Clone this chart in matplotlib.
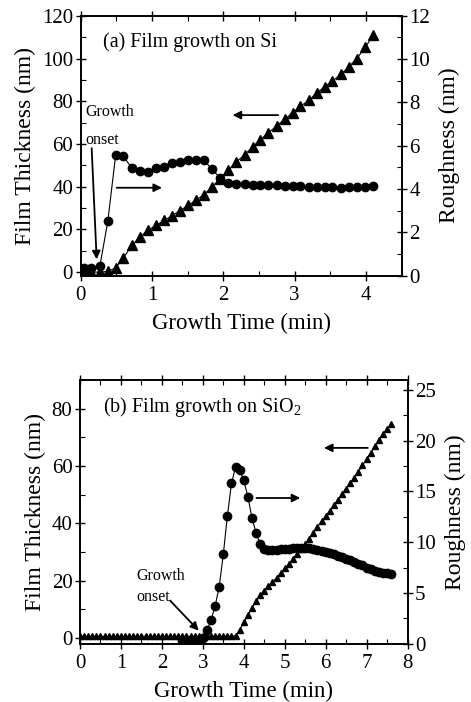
import matplotlib
matplotlib.use("Agg")
import matplotlib.pyplot as plt
from matplotlib.ticker import MultipleLocator

plt.rcParams['font.family'] = ['Liberation Serif', 'DejaVu Serif']
plt.rcParams['mathtext.fontset'] = 'custom'
plt.rcParams['mathtext.rm'] = 'Liberation Serif'

# (a) growth on Si
time_si = [0.04, 0.15, 0.27, 0.38, 0.49, 0.60, 0.72, 0.83, 0.94, 1.06, 1.17, 1.28,
           1.39, 1.51, 1.62, 1.73, 1.84, 1.96, 2.07, 2.18, 2.30, 2.41, 2.52, 2.63,
           2.75, 2.86, 2.97, 3.08, 3.20, 3.31, 3.42, 3.53, 3.65, 3.76, 3.87, 3.99, 4.10]
thick_si = [0, 0, 0, 0.3, 2.0, 6.8, 12.5, 16.5, 19.5, 22.0, 24.2, 26.4,
            28.8, 31.3, 33.8, 36.3, 40.0, 43.8, 47.6, 51.5, 55.0, 58.6, 62.0, 65.2,
            68.5, 71.5, 74.6, 77.6, 80.5, 83.9, 86.8, 89.4, 92.7, 96.1, 100.0, 105.2, 111.0]
rough_si = [0.35, 0.35, 0.45, 2.5, 5.55, 5.5, 4.95, 4.84, 4.79, 4.95, 5.03, 5.2,
            5.26, 5.32, 5.36, 5.34, 4.9, 4.5, 4.28, 4.23, 4.21, 4.2, 4.18, 4.17,
            4.16, 4.15, 4.14, 4.12, 4.11, 4.1, 4.09, 4.08, 4.06, 4.07, 4.08, 4.1, 4.15]

# (b) growth on SiO2
time_ox = [0.0, 0.1, 0.2, 0.3, 0.4, 0.5, 0.6, 0.7, 0.8, 0.9, 1.0, 1.1, 1.2, 1.3,
           1.4, 1.5, 1.6, 1.7, 1.8, 1.9, 2.0, 2.1, 2.2, 2.3, 2.4, 2.5, 2.6, 2.7,
           2.8, 2.9, 3.0, 3.1, 3.2, 3.3, 3.4, 3.5, 3.6, 3.7, 3.8, 3.9, 4.0, 4.1,
           4.2, 4.3, 4.4, 4.5, 4.6, 4.7, 4.8, 4.9, 5.0, 5.1, 5.2, 5.3, 5.4, 5.5,
           5.6, 5.7, 5.8, 5.9, 6.0, 6.1, 6.2, 6.3, 6.4, 6.5, 6.6, 6.7, 6.8, 6.9,
           7.0, 7.1, 7.2, 7.3, 7.4, 7.5, 7.6]
thick_ox = [0.5] * 38 + [
    0.8, 2.8, 5.4, 8.0, 10.4, 12.8, 14.8, 16.5, 18.0, 19.4, 21.0, 22.6, 24.2,
    25.8, 27.5, 29.4, 31.1, 32.8, 34.6, 36.6, 38.8, 40.6, 42.5, 44.3, 46.3,
    48.2, 50.1, 52.0, 53.9, 55.9, 58.0, 60.2, 62.4, 64.6, 66.8, 69.0, 71.0,
    72.8, 74.5]
time_ox_r = time_ox[25:]
rough_ox = [0.25, 0.25, 0.25, 0.25, 0.3, 0.5, 1.3, 2.3, 3.7, 5.6, 8.8, 12.6,
            15.8, 17.4, 17.1, 16.1, 14.5, 12.4, 10.9, 9.8, 9.35, 9.2, 9.2, 9.25,
            9.3, 9.3, 9.35, 9.4, 9.4, 9.45, 9.45, 9.4, 9.35, 9.25, 9.15, 9.0, 8.9,
            8.8, 8.65, 8.5, 8.35, 8.2, 8.0, 7.85, 7.7, 7.5, 7.35, 7.2, 7.1, 7.0,
            6.95, 6.9]

fig = plt.figure(figsize=(4.71, 7.02), dpi=100)


def style(ax, twin, xmaj, ymaj, rmaj):
    ax.xaxis.set_major_locator(MultipleLocator(xmaj))
    ax.xaxis.set_minor_locator(MultipleLocator(xmaj / 2))
    ax.yaxis.set_major_locator(MultipleLocator(ymaj))
    ax.yaxis.set_minor_locator(MultipleLocator(ymaj / 2))
    twin.yaxis.set_major_locator(MultipleLocator(rmaj))
    twin.yaxis.set_minor_locator(MultipleLocator(rmaj / 2))
    ax.tick_params(which='major', direction='inout', length=7, width=1,
                   labelsize=15, top=True, pad=2)
    ax.tick_params(axis='x', which='major', pad=4)
    ax.tick_params(which='minor', direction='in', length=3.5, width=0.8, top=True)
    twin.tick_params(which='major', direction='inout', length=7, width=1,
                     labelsize=15, pad=2)
    twin.tick_params(which='minor', direction='in', length=3.5, width=0.8)
    for a in (ax, twin):
        for s in a.spines.values():
            s.set_linewidth(1.2)
    ax.set_xlabel('Growth Time (min)', fontsize=16.5, labelpad=6)
    ax.set_ylabel('Film Thickness (nm)', fontsize=17, labelpad=4)
    twin.set_ylabel('Roughness (nm)', fontsize=17, labelpad=6)


arrow = dict(arrowstyle='-|>', color='black', lw=1.3, mutation_scale=12,
             shrinkA=0, shrinkB=0)

# ---- top panel
ax1 = fig.add_axes([0.1713, 0.6075, 0.6815, 0.370])
ax1r = ax1.twinx()
ax1.plot(time_si, thick_si, color='black', lw=0.8, marker='^', ms=6.5, zorder=3)
ax1r.plot(time_si, rough_si, color='black', lw=0.8, marker='o', ms=6, zorder=3)
ax1.set_xlim(0, 4.5)
ax1.set_ylim(-1.6, 120)
ax1r.set_ylim(0, 12)
style(ax1, ax1r, 1, 20, 2)
ax1.text(0.0685, 0.898, '(a) Film growth on Si', transform=ax1.transAxes,
         fontsize=14.5, va='center', ha='left')
ax1.text(0.07, 75.0, 'Growth', fontsize=11.5, va='center', ha='left')
ax1.text(0.07, 62.0, 'onset', fontsize=11.5, va='center', ha='left')
ax1.annotate('', xy=(0.224, 6.0), xytext=(0.154, 58.0), arrowprops=arrow)
ax1.annotate('', xy=(2.13, 73.5), xytext=(2.77, 73.5), arrowprops=arrow)
ax1.annotate('', xy=(1.14, 39.5), xytext=(0.505, 39.5), arrowprops=arrow)

# ---- bottom panel
ax2 = fig.add_axes([0.1699, 0.0833, 0.6953, 0.3754])
ax2r = ax2.twinx()
ax2.plot(time_ox, thick_ox, color='black', lw=0.8, marker='^', ms=4.5, zorder=3)
ax2r.plot(time_ox_r, rough_ox, color='black', lw=0.8, marker='o', ms=6, zorder=3)
ax2.set_xlim(0, 8)
ax2.set_ylim(-2, 90)
ax2r.set_ylim(0, 26)
style(ax2, ax2r, 1, 20, 5)
ax2.text(0.071, 0.896, '(b) Film growth on SiO$_2$', transform=ax2.transAxes,
         fontsize=14.5, va='center', ha='left')
ax2.text(1.37, 21.6, 'Growth', fontsize=11.5, va='center', ha='left')
ax2.text(1.37, 14.2, 'onset', fontsize=11.5, va='center', ha='left')
ax2.annotate('', xy=(2.9, 2.5), xytext=(2.2, 13.0), arrowprops=arrow)
ax2.annotate('', xy=(5.96, 66.3), xytext=(7.03, 66.3), arrowprops=arrow)
ax2.annotate('', xy=(5.38, 48.8), xytext=(4.31, 48.8), arrowprops=arrow)

fig.savefig('out.png', dpi=100)
